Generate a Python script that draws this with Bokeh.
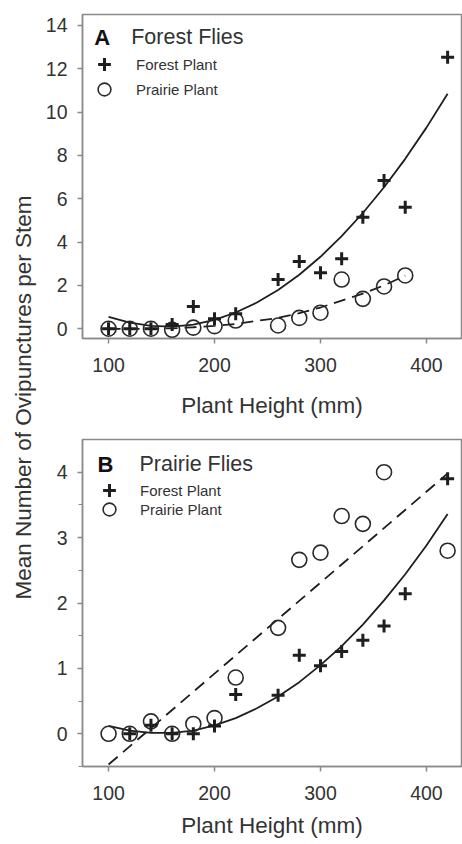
import numpy as np
from bokeh.plotting import figure
from bokeh.layouts import row, column
from bokeh.models import Range1d, FixedTicker, Label, Legend, LegendItem
from bokeh.embed import file_html
from bokeh.resources import INLINE

FONT = "Liberation Sans"
TXT = "#333333"
AX = "#8a8a8a"
INK = "#1e1e1e"

# ---------------- data ----------------
x_ticks = [100, 200, 300, 400]
a_y_ticks = [0, 2, 4, 6, 8, 10, 12, 14]
b_y_ticks = [0, 1, 2, 3, 4]
b_y_minor = [-0.5, 0.5, 1.5, 2.5, 3.5]

# Panel A: Forest flies
a_forest_x = [100, 120, 140, 160, 180, 200, 220, 260, 280, 300, 320, 340, 360, 380, 420]
a_forest_y = [0, 0, 0, 0.2, 1.03, 0.46, 0.69, 2.27, 3.1, 2.58, 3.23, 5.15, 6.84, 5.61, 12.53]
a_prairie_x = [100, 120, 140, 160, 180, 200, 220, 260, 280, 300, 320, 340, 360, 380]
a_prairie_y = [0, 0, 0, -0.05, 0.05, 0.12, 0.38, 0.15, 0.5, 0.74, 2.27, 1.38, 1.95, 2.46]
a_forest_fit_x = [100, 120, 140, 160, 180, 200, 220, 240, 260, 280, 300, 320, 340, 360, 380, 400, 420]
a_forest_fit_y = [0.55, 0.28, 0.13, 0.10, 0.19, 0.41, 0.75, 1.21, 1.79, 2.49, 3.32, 4.27, 5.34, 6.53, 7.84, 9.28, 10.84]
a_prairie_fit_x = [100, 120, 140, 160, 180, 200, 220, 240, 260, 280, 300, 320, 340, 360, 380]
a_prairie_fit_y = [0.0, -0.01, 0.0, 0.02, 0.07, 0.13, 0.22, 0.36, 0.5, 0.72, 0.98, 1.3, 1.62, 2.0, 2.45]

# Panel B: Prairie flies
b_forest_x = [120, 140, 160, 180, 200, 220, 260, 280, 300, 320, 340, 360, 380, 420]
b_forest_y = [0, 0.13, 0, 0, 0.12, 0.6, 0.59, 1.2, 1.04, 1.26, 1.43, 1.65, 2.14, 3.9]
b_prairie_x = [100, 120, 140, 160, 180, 200, 220, 260, 280, 300, 320, 340, 360, 420]
b_prairie_y = [0, 0, 0.19, 0, 0.15, 0.24, 0.86, 1.62, 2.66, 2.77, 3.33, 3.21, 4.0, 2.8]
b_forest_fit_x = [100, 120, 140, 160, 180, 200, 220, 240, 260, 280, 300, 320, 340, 360, 380, 400, 420]
b_forest_fit_y = [0.12, 0.05, 0.013, 0.015, 0.05, 0.13, 0.24, 0.39, 0.57, 0.79, 1.05, 1.34, 1.67, 2.04, 2.44, 2.88, 3.36]
b_prairie_fit_x = [100, 420]
b_prairie_fit_y = [-0.47, 3.98]

x_label = "Plant Height (mm)"
y_label = "Mean Number of Ovipunctures per Stem"
legend_labels = ["Forest Plant", "Prairie Plant"]


def make_panel(height, top, bottom, y_range, y_ticks, y_minor, letter, title,
               fx, fy, px, py, ffx, ffy, pfx, pfy, leg_locs, leg_standoff,
               letter_pos, title_pos, label_standoff):
    p = figure(width=420, height=height, x_range=Range1d(75.4, 433.1), y_range=Range1d(*y_range),
               toolbar_location=None, output_backend="svg",
               min_border_left=38, min_border_right=1, min_border_top=top, min_border_bottom=bottom)
    p.grid.visible = False
    p.outline_line_color = AX
    p.outline_line_width = 1.5
    p.background_fill_color = "white"
    p.border_fill_color = "white"

    p.xaxis.ticker = FixedTicker(ticks=x_ticks)
    p.yaxis.ticker = FixedTicker(ticks=y_ticks, minor_ticks=y_minor)
    for ax in (p.xaxis[0], p.yaxis[0]):
        ax.axis_line_color = AX
        ax.axis_line_width = 1.5
        ax.major_tick_line_color = AX
        ax.major_tick_line_width = 1.5
        ax.major_tick_in = 0
        ax.major_tick_out = 5
        ax.minor_tick_in = 0
        ax.minor_tick_out = 4
        ax.minor_tick_line_color = AX
        ax.minor_tick_line_width = 1.2
        ax.major_label_text_font = FONT
        ax.major_label_text_font_size = "19.5px"
        ax.major_label_text_color = TXT
    p.xaxis.minor_tick_line_color = None
    if not y_minor:
        p.yaxis.minor_tick_line_color = None
    p.xaxis.major_label_standoff = 14
    p.yaxis.major_label_standoff = 10
    p.xaxis.axis_label = x_label
    p.xaxis.axis_label_text_font = FONT
    p.xaxis.axis_label_text_font_size = "22.5px"
    p.xaxis.axis_label_text_font_style = "normal"
    p.xaxis.axis_label_text_color = TXT
    p.xaxis.axis_label_standoff = label_standoff

    p.line(ffx, ffy, line_color=INK, line_width=1.8)
    p.line(pfx, pfy, line_color=INK, line_width=1.8, line_dash="12 7")
    rc = p.scatter(px, py, marker="circle", size=15, fill_color=None, line_color="#2a2a2a", line_width=1.6)
    rf = p.scatter(fx, fy, marker="cross", size=13, line_color=INK, line_width=3)

    for lab_text, rend, loc in zip(legend_labels, (rf, rc), leg_locs):
        leg = Legend(items=[LegendItem(label=lab_text, renderers=[rend])],
                     location=loc, glyph_width=32, glyph_height=32, spacing=0,
                     padding=0, margin=0, label_standoff=leg_standoff,
                     border_line_color=None, background_fill_alpha=0,
                     label_text_font=FONT, label_text_font_size="15px", label_text_color=TXT)
        p.add_layout(leg)

    p.add_layout(Label(x=letter_pos[0], y=letter_pos[1], text=letter, text_font=FONT,
                       text_font_size="22px", text_font_style="bold", text_color="#111111",
                       text_baseline="alphabetic"))
    p.add_layout(Label(x=title_pos[0], y=title_pos[1], text=title, text_font=FONT,
                       text_font_size="21.5px", text_color=TXT, text_baseline="alphabetic"))
    return p


pA = make_panel(430, 14, 92, (-0.45, 14.5), a_y_ticks, [], "A", "Forest Flies",
                a_forest_x, a_forest_y, a_prairie_x, a_prairie_y,
                a_forest_fit_x, a_forest_fit_y, a_prairie_fit_x, a_prairie_fit_y,
                [(6, 258), (6, 233)], 16, (86.5, 13.44), (121.4, 13.44), 18)
pB = make_panel(414, 9, 78, (-0.5, 4.5), b_y_ticks, b_y_minor, "B", "Prairie Flies",
                b_forest_x, b_forest_y, b_prairie_x, b_prairie_y,
                b_forest_fit_x, b_forest_fit_y, b_prairie_fit_x, b_prairie_fit_y,
                [(11, 260), (11, 241)], 15, (89.5, 4.12), (129.2, 4.12), 10)

lab = figure(width=42, height=844, x_range=Range1d(0, 42), y_range=Range1d(0, 844),
             toolbar_location=None, output_backend="svg", x_axis_type=None, y_axis_type=None,
             min_border=0)
lab.outline_line_color = None
lab.grid.visible = False
lab.add_layout(Label(x=23, y=447, text=y_label, angle=np.pi / 2, text_align="center",
                     text_baseline="middle", text_font=FONT, text_font_size="22.5px",
                     text_color=TXT))

layout = row(lab, column(pA, pB))
open("out.html", "w").write(file_html(layout, INLINE))
